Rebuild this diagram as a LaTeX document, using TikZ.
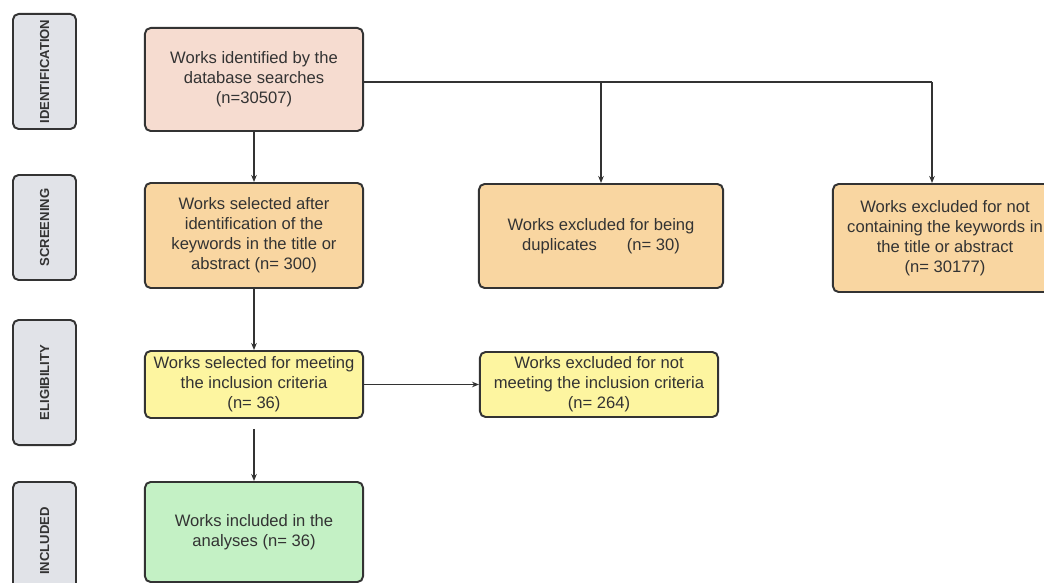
\documentclass[tikz,border=0pt]{standalone}
\usepackage{fontspec}
\setmainfont{Liberation Sans}
\usetikzlibrary{arrows.meta}
\definecolor{idfill}{HTML}{F6DCD0}
\definecolor{scrfill}{HTML}{F9D6A1}
\definecolor{elifill}{HTML}{FDF5A0}
\definecolor{incfill}{HTML}{C4F1C5}
\definecolor{stagefill}{HTML}{E1E3E8}
\definecolor{edge}{HTML}{333333}
\begin{document}
\begin{tikzpicture}[x=0.025cm,y=-0.025cm,font=\fontsize{11.8}{14.2}\selectfont,line join=round,>={Stealth[length=5pt,width=4pt]}]
	\tikzset{box/.style={draw=edge,line width=1.4pt,rounded corners=4pt,align=center,text=edge,inner sep=2pt},
		stage/.style={box,fill=stagefill,rotate=90,minimum height=1.575cm,font=\fontsize{9.3}{11}\selectfont\bfseries},
		link/.style={draw=edge,line width=1pt}}
	\useasboundingbox (0,0) rectangle (1044,583);
	% stages on the left
	\node[stage,minimum width=2.875cm] (sid) at (44.5,71.5) {IDENTIFICATION};
	\node[stage,minimum width=2.625cm] (sscr) at (44.5,227.5) {SCREENING};
	\node[stage,minimum width=3.125cm] (seli) at (44.5,382.5) {ELIGIBILITY};
	\node[stage,minimum width=2.95cm] (sinc) at (44.5,541) {INCLUDED};
	% main column
	\node[box,fill=idfill,minimum width=5.45cm,minimum height=2.575cm] (ident) at (254,79.5) {Works identified by the\\database searches\\(n=30507)};
	\node[box,fill=scrfill,minimum width=5.45cm,minimum height=2.625cm] (scr) at (254,235.5) {Works selected after\\identification of the\\keywords in the title or\\abstract (n= 300)};
	\node[box,fill=elifill,minimum width=5.45cm,minimum height=1.675cm] (elig) at (254,384.5) {Works selected for meeting\\the inclusion criteria\\(n= 36)};
	\node[box,fill=incfill,minimum width=5.45cm,minimum height=2.5cm] (incl) at (254,532) {Works included in the\\analyses (n= 36)};
	% excluded
	\node[box,fill=scrfill,minimum width=6.1cm,minimum height=2.6cm] (dup) at (601,236) {Works excluded for being\\duplicates\hspace{1.8em}(n= 30)};
	\node[box,fill=scrfill,minimum width=5.6cm,minimum height=2.7cm] (notkw) at (945,238) {Works excluded for not\\containing the keywords in\\the title or abstract\\(n= 30177)};
	\node[box,fill=elifill,minimum width=5.95cm,minimum height=1.625cm] (inel) at (599,384.5) {Works excluded for not\\meeting the inclusion criteria\\(n= 264)};
	\coordinate (turn) at (932,82);
	% connectors
	\draw[link,->] (ident) -- (scr);
	\draw[link,->] (scr) -- (elig);
	\draw[link,->,shorten <=0.25cm] (elig) -- (incl);
	\draw[link,->] (elig) -- (inel);
	\draw[link] (ident.east |- turn) -- (turn);
	\draw[link,->] (turn) -- (turn |- notkw.north);
	\draw[link,->] (dup |- turn) -- (dup);
\end{tikzpicture}
\end{document}
